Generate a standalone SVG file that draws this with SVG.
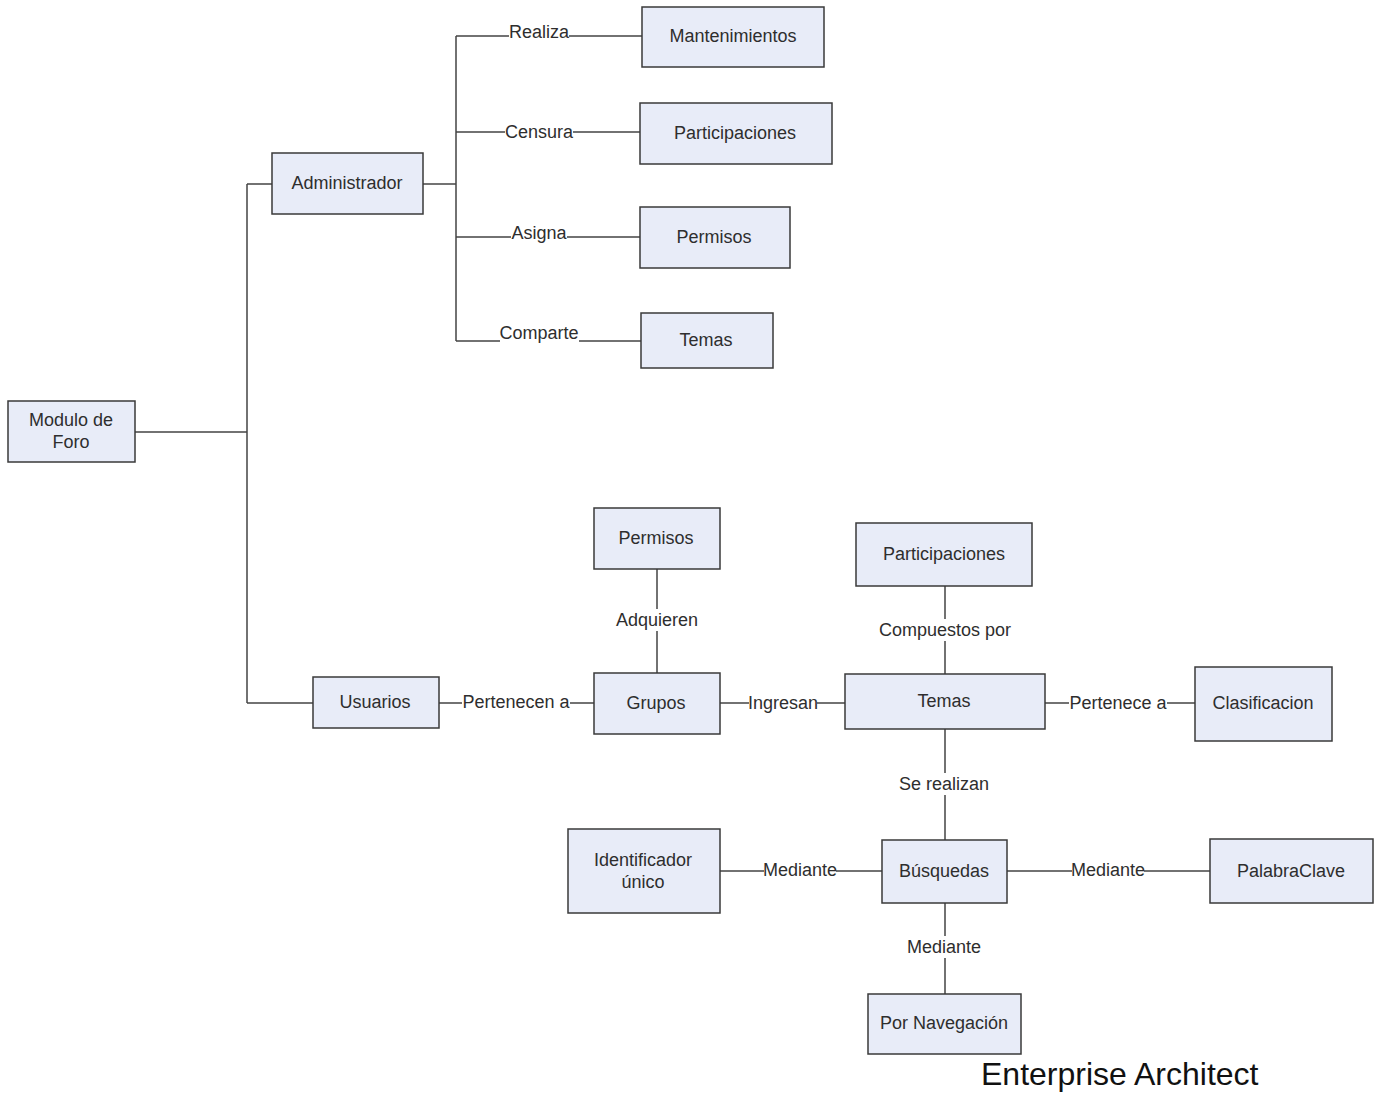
<svg xmlns="http://www.w3.org/2000/svg" width="1387" height="1095" viewBox="0 0 1387 1095">
<style>
.n{fill:#e8ecf8;stroke:#3a3a3a;stroke-width:1.5}
.t{font-family:"Liberation Sans",Arial,sans-serif;font-size:18px;fill:#2e2e2e;text-anchor:middle;dominant-baseline:central}
.c{stroke:#444;stroke-width:1.5;fill:none}
.lb{fill:#fff}
</style>
<rect width="1387" height="1095" fill="#fff"/>
<g id="connectors">
<path class="c" d="M135 432H247M247 184V703M247 184H272M247 703H313"/>
<path class="c" d="M423 184H456" stroke-width="2.5"/>
<path class="c" d="M456 36V341M456 36H642M456 132H640M456 237H640M456 341H641"/>
<path class="c" d="M439 703H594M720 703H845M1045 703H1195M657 569V673M945 586V674M945 729V840M720 871H882M1007 871H1210M945 903V994"/>
<g id="labels">
<rect class="lb" x="509" y="22" width="60" height="20"/><text class="t" x="539" y="32">Realiza</text>
<rect class="lb" x="505" y="122" width="68" height="20"/><text class="t" x="539" y="132">Censura</text>
<rect class="lb" x="511" y="223" width="56" height="22"/><text class="t" x="539" y="233">Asigna</text>
<rect class="lb" x="500" y="323" width="79" height="22"/><text class="t" x="539" y="333">Comparte</text>
<rect class="lb" x="462" y="692" width="108" height="20"/><text class="t" x="516" y="702">Pertenecen a</text>
<rect class="lb" x="613" y="609" width="88" height="22"/><text class="t" x="657" y="620">Adquieren</text>
<rect class="lb" x="749" y="692" width="68" height="20"/><text class="t" x="783" y="703">Ingresan</text>
<rect class="lb" x="876" y="619" width="138" height="22"/><text class="t" x="945" y="630">Compuestos por</text>
<rect class="lb" x="1069" y="692" width="98" height="20"/><text class="t" x="1118" y="703">Pertenece a</text>
<rect class="lb" x="897" y="773" width="94" height="22"/><text class="t" x="944" y="784">Se realizan</text>
<rect class="lb" x="764" y="860" width="72" height="20"/><text class="t" x="800" y="870">Mediante</text>
<rect class="lb" x="1072" y="860" width="72" height="20"/><text class="t" x="1108" y="870">Mediante</text>
<rect class="lb" x="907" y="936" width="74" height="22"/><text class="t" x="944" y="947">Mediante</text>
</g>
</g>
<g id="modulo"><rect class="n" x="8" y="401" width="127" height="61"/><text class="t" x="71" y="420">Modulo de</text><text class="t" x="71" y="442">Foro</text></g>
<g id="administrador"><rect class="n" x="272" y="153" width="151" height="61"/><text class="t" x="347" y="183">Administrador</text></g>
<g id="mantenimientos"><rect class="n" x="642" y="7" width="182" height="60"/><text class="t" x="733" y="36">Mantenimientos</text></g>
<g id="participaciones1"><rect class="n" x="640" y="103" width="192" height="61"/><text class="t" x="735" y="133">Participaciones</text></g>
<g id="permisos1"><rect class="n" x="640" y="207" width="150" height="61"/><text class="t" x="714" y="237">Permisos</text></g>
<g id="temas1"><rect class="n" x="641" y="313" width="132" height="55"/><text class="t" x="706" y="340">Temas</text></g>
<g id="usuarios"><rect class="n" x="313" y="677" width="126" height="51"/><text class="t" x="375" y="702">Usuarios</text></g>
<g id="grupos"><rect class="n" x="594" y="673" width="126" height="61"/><text class="t" x="656" y="703">Grupos</text></g>
<g id="permisos2"><rect class="n" x="594" y="508" width="126" height="61"/><text class="t" x="656" y="538">Permisos</text></g>
<g id="participaciones2"><rect class="n" x="856" y="523" width="176" height="63"/><text class="t" x="944" y="554">Participaciones</text></g>
<g id="temas2"><rect class="n" x="845" y="674" width="200" height="55"/><text class="t" x="944" y="701">Temas</text></g>
<g id="clasificacion"><rect class="n" x="1195" y="667" width="137" height="74"/><text class="t" x="1263" y="703">Clasificacion</text></g>
<g id="busquedas"><rect class="n" x="882" y="840" width="125" height="63"/><text class="t" x="944" y="871">Búsquedas</text></g>
<g id="identificador"><rect class="n" x="568" y="829" width="152" height="84"/><text class="t" x="643" y="860">Identificador</text><text class="t" x="643" y="882">único</text></g>
<g id="palabraclave"><rect class="n" x="1210" y="839" width="163" height="64"/><text class="t" x="1291" y="871">PalabraClave</text></g>
<g id="navegacion"><rect class="n" x="868" y="994" width="153" height="60"/><text class="t" x="944" y="1023">Por Navegación</text></g>
<text x="981" y="1085" font-family="'Liberation Sans',Arial,sans-serif" font-size="32" fill="#111">Enterprise Architect</text>
</svg>
